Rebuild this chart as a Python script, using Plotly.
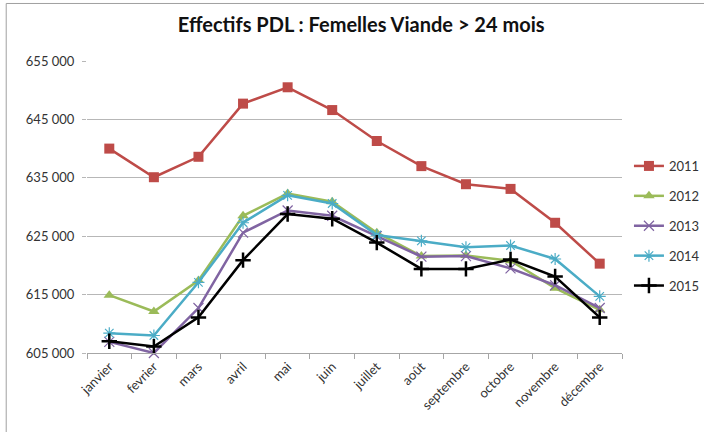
import plotly.graph_objects as go

months = ["janvier", "fevrier", "mars", "avril", "mai", "juin", "juillet",
          "août", "septembre", "octobre", "novembre", "décembre"]

y2011 = [640000, 635100, 638600, 647700, 650500, 646600, 641300, 637000, 633900, 633100, 627300, 620300]
y2012 = [614900, 612100, 617400, 628500, 632300, 630900, 625600, 621600, 621700, 620800, 616100, 612400]
y2013 = [606900, 605000, 612700, 625600, 629400, 628500, 625000, 621500, 621600, 619500, 616600, 612700]
y2014 = [608400, 608000, 617100, 627300, 632000, 630600, 625200, 624200, 623100, 623400, 621100, 614700]
y2015 = [607000, 606100, 611100, 620900, 628800, 628000, 623900, 619400, 619400, 621000, 618100, 611100]

ytick_vals = [605000, 615000, 625000, 635000, 645000, 655000]
ytick_text = ["605 000", "615 000", "625 000", "635 000", "645 000", "655 000"]

title = "Effectifs PDL : Femelles Viande > 24 mois"

series = [
    ("2011", y2011, "#BE4B48", dict(symbol="square", size=10, color="#BE4B48")),
    ("2012", y2012, "#9BBB59", dict(symbol="triangle-up", size=10, color="#9BBB59")),
    ("2013", y2013, "#8064A2", dict(symbol="x-thin-open", size=10, color="#8064A2",
                                    line=dict(color="#9b86b8", width=1.2))),
    ("2014", y2014, "#4BACC6", dict(symbol="asterisk-open", size=10, color="#4BACC6",
                                    line=dict(color="#6ec0d6", width=1.2))),
    ("2015", y2015, "#000000", dict(symbol="cross-thin-open", size=11, color="#000000",
                                    line=dict(color="#000000", width=2.5))),
]

fig = go.Figure()
for name, ys, col, mk in series:
    fig.add_trace(go.Scatter(
        x=months, y=ys, name=name, mode="lines+markers",
        line=dict(color=col, width=2.5), marker=mk, legendgroup=name,
        cliponaxis=False,
    ))

fig.update_layout(
    width=704, height=432,
    margin=dict(l=87, r=82, t=61, b=79, autoexpand=False),
    paper_bgcolor="white", plot_bgcolor="white",
    font=dict(family="Lato, Liberation Sans, sans-serif", size=13, color="#333333"),
    title=dict(text="<b>" + title + "</b>", x=0.513, xanchor="center", y=0.942, yanchor="middle",
               font=dict(family="Lato, Liberation Sans, sans-serif", size=20, color="#111111")),
    showlegend=True,
    legend=dict(x=1.013, xanchor="left", y=0.435, yanchor="middle",
                font=dict(size=13, color="#333333"), tracegroupgap=10,
                bgcolor="rgba(0,0,0,0)"),
    xaxis=dict(type="category", range=[-0.5, len(months) - 0.5], tickangle=-45,
               showgrid=False, showline=True,
               linecolor="#a6a6a6", linewidth=1, ticks="outside", tickson="boundaries",
               ticklen=5, tickcolor="#a6a6a6", tickfont=dict(size=13, color="#333333")),
    yaxis=dict(range=[605000, 655000], tickvals=ytick_vals, ticktext=ytick_text,
               showgrid=True, gridcolor="#b7b7b7", gridwidth=1, zeroline=False,
               showline=False, ticks="outside", ticklen=4, tickcolor="#b7b7b7",
               ticklabelstandoff=5,
               tickfont=dict(size=13, color="#333333")),
    shapes=[dict(type="rect", xref="paper", yref="paper",
                 x0=-0.151, x1=1.16, y0=-0.28, y1=1.197,
                 line=dict(color="#a0a0a0", width=1), fillcolor="rgba(0,0,0,0)")],
)

fig.write_html("out.html", post_script="document.body.style.margin='0';",
               config={"displayModeBar": False})
